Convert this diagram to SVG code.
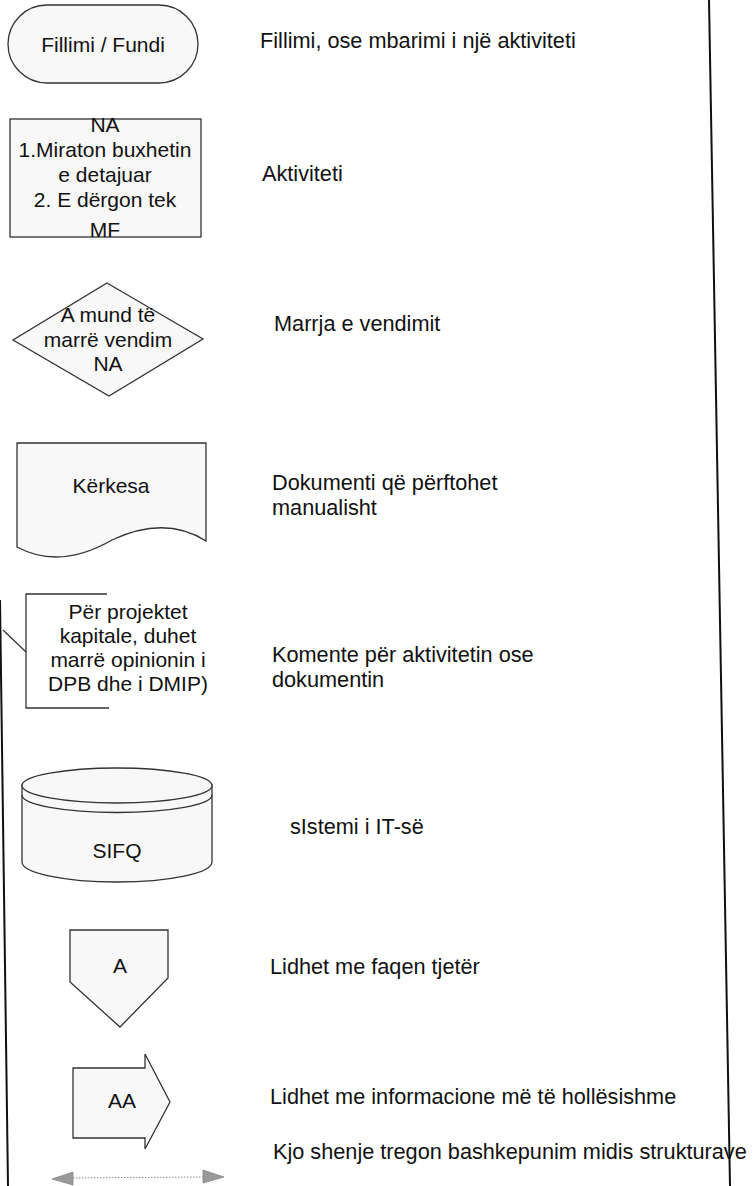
<svg xmlns="http://www.w3.org/2000/svg" width="754" height="1186" viewBox="0 0 754 1186">
<defs>
<style>
.shape{fill:#f8f8f8;stroke:#333;stroke-width:1.3}
.line{fill:none;stroke:#333;stroke-width:1.3}
.t{font-family:"Liberation Sans",Arial,sans-serif;font-size:21px;fill:#111;text-anchor:middle}
.l{font-family:"Liberation Sans",Arial,sans-serif;font-size:21.7px;fill:#111}
.border{stroke:#111;stroke-width:2;fill:none}
</style>
</defs>
<rect width="754" height="1186" fill="#ffffff"/>
<g id="borders">
<line class="border" x1="709" y1="0" x2="730" y2="1186"/>
<line class="border" x1="0" y1="600" x2="8" y2="1186"/>
</g>
<g id="node-terminal">
<rect class="shape" x="8" y="5" width="190" height="78" rx="39" ry="39"/>
<text class="t" x="103" y="52">Fillimi / Fundi</text>
</g>
<g id="node-activity">
<rect class="shape" x="10" y="119" width="191" height="118"/>
<text class="t" x="105" y="132">NA</text>
<text class="t" x="105" y="157">1.Miraton buxhetin</text>
<text class="t" x="105" y="182">e detajuar</text>
<text class="t" x="105" y="207">2. E dërgon tek</text>
<text class="t" x="105" y="237">MF</text>
</g>
<g id="node-decision">
<polygon class="shape" points="107,283 203,339 109,396 13,340"/>
<text class="t" x="108" y="322">A mund të</text>
<text class="t" x="108" y="347">marrë vendim</text>
<text class="t" x="108" y="371">NA</text>
</g>
<g id="node-document">
<path class="shape" d="M17,443 L206,443 L206,541 Q165,515 112,540 Q60,570 17,547 Z"/>
<text class="t" x="111" y="493">Kërkesa</text>
</g>
<g id="node-comment">
<path class="line" d="M107,594 L26,594 L26,708 L109,708"/>
<line class="line" x1="3" y1="630" x2="26" y2="652"/>
<text class="t" x="128" y="619">Për projektet</text>
<text class="t" x="128" y="643">kapitale, duhet</text>
<text class="t" x="128" y="667">marrë opinionin i</text>
<text class="t" x="128" y="691">DPB dhe i DMIP)</text>
</g>
<g id="node-database">
<path class="shape" d="M22,785 L22,862 A95,20 0 0 0 212,862 L212,785 Z"/>
<ellipse class="shape" cx="117" cy="785.5" rx="95" ry="17.5"/>
<path class="line" d="M22,795 A95,17.5 0 0 0 212,795"/>
<text class="t" x="117" y="858">SIFQ</text>
</g>
<g id="node-offpage">
<polygon class="shape" points="70,930 168,930 168,978 120,1027 70,982"/>
<text class="t" x="120" y="973">A</text>
</g>
<g id="node-arrow">
<polygon class="shape" points="73,1068 145,1068 145,1054 170,1102 145,1149 145,1138 73,1138"/>
<text class="t" x="122" y="1108">AA</text>
</g>
<g id="connectors">
<line x1="70" y1="1178" x2="206" y2="1177" stroke="#888" stroke-width="1" stroke-dasharray="1.5,1.5"/>
<polygon points="52,1179 73,1172 73,1185" fill="#999" stroke="#888" stroke-width="0.8"/>
<polygon points="224,1177 203,1170 203,1183" fill="#999" stroke="#888" stroke-width="0.8"/>
</g>
<g id="labels">
<text class="l" x="260" y="48">Fillimi, ose mbarimi i një aktiviteti</text>
<text class="l" x="262" y="181">Aktiviteti</text>
<text class="l" x="274" y="331">Marrja e vendimit</text>
<text class="l" x="272" y="490">Dokumenti që përftohet</text>
<text class="l" x="272" y="515">manualisht</text>
<text class="l" x="272" y="662">Komente për aktivitetin ose</text>
<text class="l" x="272" y="687">dokumentin</text>
<text class="l" x="290" y="834">sIstemi i IT-së</text>
<text class="l" x="270" y="974">Lidhet me faqen tjetër</text>
<text class="l" x="270" y="1104">Lidhet me informacione më të hollësishme</text>
<text class="l" x="273" y="1159">Kjo shenje tregon bashkepunim midis strukturave</text>
</g>
</svg>
